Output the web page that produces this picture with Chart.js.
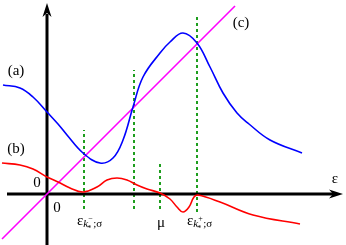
<!DOCTYPE html>
<html>
<head>
<meta charset="utf-8">
<script src="https://cdn.jsdelivr.net/npm/chart.js@4.4.1/dist/chart.umd.min.js"></script>
<style>
  html, body { margin: 0; padding: 0; background: #fff; }
  #wrap { width: 346px; height: 245px; position: relative; }
</style>
</head>
<body>
<div id="wrap"><canvas id="dosChart"></canvas></div>
<script>
// curve (a), blue
var aX = [-4.4, -2.7, -1.4, 0, 1.1, 2.0, 3.6, 5.3, 6.6, 7.6, 8.6, 9.6, 11.3, 12.3, 13.6, 15.0, 16.3, 17.6, 19.0, 20.2, 22.3, 25.5];
var aY = [10.9, 10.6, 9.7, 8.2, 7.0, 5.9, 4.1, 3.1, 3.6, 5.4, 8.7, 11.7, 14.1, 15.2, 16.1, 15.1, 12.7, 10.1, 8.1, 7.0, 5.4, 4.1];
// curve (b), red
var bX = [-4.5, -2.7, -1.4, 0, 1.1, 2.3, 3.6, 5.0, 6.0, 7.0, 8.0, 9.0, 10.0, 11.3, 12.3, 13.0, 13.6, 14.2, 14.7, 15.1, 17.3, 20.6, 25.3];
var bY = [3.1, 2.9, 2.5, 1.7, 1.2, 0.6, 0.2, 0.7, 1.4, 1.6, 1.4, 0.9, 0.5, 0.1, -0.5, -1.3, -1.8, -1.3, -0.3, -0.1, -0.8, -2.1, -3.0];
// line (c), y = x
var cX = [-4.5, 18.8];
// marked energies (green dotted lines) and their vertical extents
var markX = [3.7, 8.7, 11.3, 15.0];
var markTop = [6.4, 12.4, 3.1, 18.0];
var markBottom = [-1.5, -1.5, -1.5, -1.8];

var SERIF = '"Liberation Serif", "DejaVu Serif", serif';

function pts(xs, ys) {
    return xs.map(function (v, i) { return { x: v, y: ys[i] }; });
}

var datasets = [];
datasets.push({ data: pts(aX, aY), borderColor: '#0000ff', borderWidth: 1.6, tension: 0.4, order: 0 });
datasets.push({ data: pts(bX, bY), borderColor: '#ff0000', borderWidth: 1.6, tension: 0.4, order: 0 });
datasets.push({ data: pts(cX, cX), borderColor: '#ff00ff', borderWidth: 1.6, order: 1 });
// axes
datasets.push({ data: [{ x: -4.0, y: 0 }, { x: 28.6, y: 0 }], borderColor: '#000', borderWidth: 3, order: 2 });
datasets.push({ data: [{ x: 0, y: -5.2 }, { x: 0, y: 18.0 }], borderColor: '#000', borderWidth: 3, order: 2 });
markX.forEach(function (m, i) {
    datasets.push({ data: [{ x: m, y: markBottom[i] }, { x: m, y: markTop[i] }], borderColor: '#1e9e1e', borderWidth: 2, borderDash: [3, 3], order: 3 });
});

var extras = {
    id: 'extras',
    afterDatasetsDraw: function (chart) {
        var ctx = chart.ctx, xs = chart.scales.x, ys = chart.scales.y;
        function px(v) { return xs.getPixelForValue(v); }
        function py(v) { return ys.getPixelForValue(v); }
        ctx.save();
        ctx.fillStyle = '#000';
        // arrow heads
        var tx = px(29.6), ty = py(0);
        ctx.beginPath();
        ctx.moveTo(tx, ty);
        ctx.lineTo(tx - 14, ty - 4.5);
        ctx.lineTo(tx - 10, ty);
        ctx.lineTo(tx - 14, ty + 4.5);
        ctx.closePath();
        ctx.fill();
        var ux = px(0), uy = py(19.1);
        ctx.beginPath();
        ctx.moveTo(ux, uy);
        ctx.lineTo(ux - 4.5, uy + 14);
        ctx.lineTo(ux, uy + 10);
        ctx.lineTo(ux + 4.5, uy + 14);
        ctx.closePath();
        ctx.fill();

        ctx.textBaseline = 'middle';
        ctx.textAlign = 'center';
        ctx.font = '15px ' + SERIF;
        ctx.fillText('(a)', px(-3.1), py(12.3));
        ctx.fillText('(b)', px(-3.1), py(4.5));
        ctx.fillText('(c)', px(19.4), py(17.1));
        ctx.fillText('0', px(-1.0), py(1.1));
        ctx.fillText('0', px(1.0), py(-1.4));
        ctx.fillText('\u03bc', px(11.4), py(-2.9));
        ctx.fillText('\u03b5', px(28.8), py(1.5));

        function epsLabel(x0, yc, sign) {
            var x = px(x0), y = py(yc);
            ctx.textAlign = 'left';
            ctx.font = '15px ' + SERIF;
            ctx.fillText('\u03b5', x, y);
            x += ctx.measureText('\u03b5').width;
            ctx.font = 'italic 11px ' + SERIF;
            ctx.fillText('k', x, y + 3);
            var kw = ctx.measureText('k').width;
            ctx.font = '8px ' + SERIF;
            ctx.fillText(sign, x + kw, y - 2);
            ctx.fillText('*', x + kw - 1, y + 8);
            x += kw + 5;
            ctx.font = '11px ' + SERIF;
            ctx.fillText(';\u03c3', x, y + 3);
        }
        epsLabel(3.0, -2.7, '\u2212');
        epsLabel(14.0, -2.7, '+');
        ctx.restore();
    }
};

var chart = new Chart(document.getElementById('dosChart').getContext('2d'), {
    type: 'scatter',
    data: { datasets: datasets },
    options: {
        responsive: true,
        maintainAspectRatio: false,
        animation: false,
        showLine: true,
        layout: { padding: 0 },
        elements: { point: { radius: 0, hoverRadius: 0 }, line: { fill: false } },
        plugins: { legend: { display: false }, tooltip: { enabled: false } },
        scales: {
            x: { type: 'linear', min: -4.7, max: 29.9, display: false },
            y: { type: 'linear', min: -5.1, max: 19.4, display: false }
        }
    },
    plugins: [extras]
});
</script>
</body>
</html>
